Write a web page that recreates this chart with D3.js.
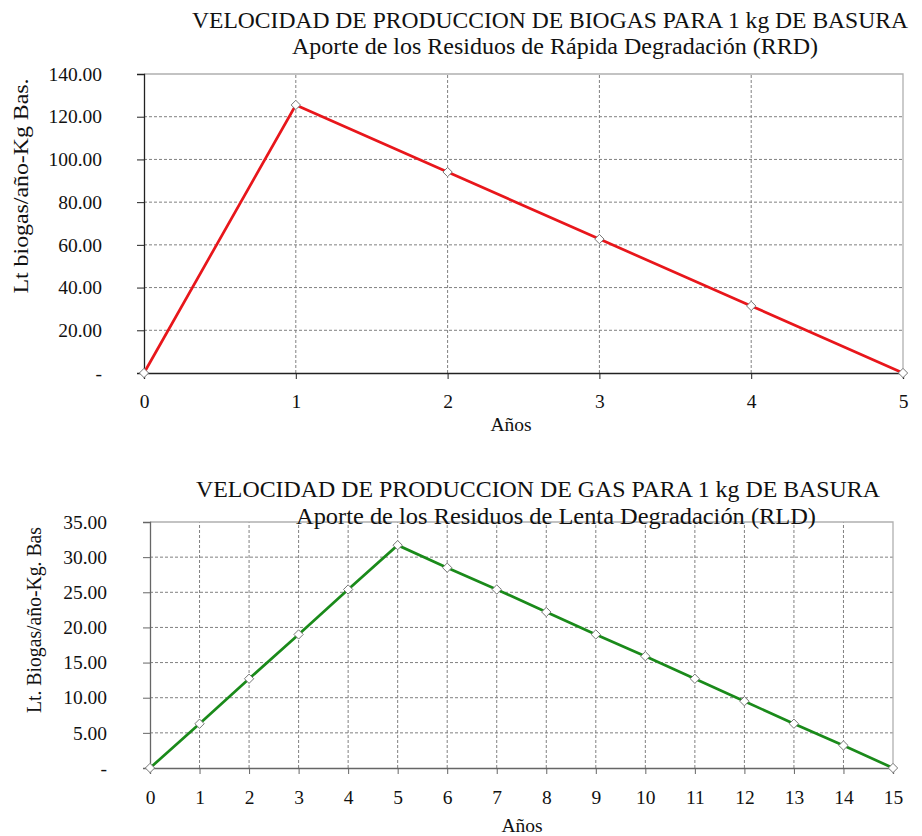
<!DOCTYPE html>
<html><head><meta charset="utf-8">
<script src="https://cdn.jsdelivr.net/npm/d3@7"></script>
<style>body{margin:0;background:#fff}svg{display:block}svg text{font-family:"Liberation Serif",serif;fill:#111}</style>
</head><body><svg id="c" width="922" height="836"></svg>
<script>
// Data
const rrdYears = [0,1,2,3,4,5];
const rrdValues = [0,125.5,94.1,62.7,31.4,0];
const rrdYTicks = [0,20,40,60,80,100,120,140];
const rlYears = [0,1,2,3,4,5,6,7,8,9,10,11,12,13,14,15];
const rlValues = [0,6.3,12.7,19.0,25.4,31.7,28.5,25.4,22.2,19.0,15.9,12.7,9.5,6.3,3.2,0];
const rlYTicks = [0,5,10,15,20,25,30,35];
const titles1 = ["VELOCIDAD DE PRODUCCION DE BIOGAS PARA 1 kg DE BASURA","Aporte de los Residuos de Rápida Degradación (RRD)"];
const titles2 = ["VELOCIDAD DE PRODUCCION DE GAS PARA 1 kg DE BASURA","Aporte de los Residuos de Lenta Degradación (RLD)"];
const xLabel = "Años";
const yLabel1 = "Lt biogas/año-Kg Bas.";
const yLabel2 = "Lt. Biogas/año-Kg. Bas";

const svg = d3.select("#c");
const fmt = v => v === 0 ? "-" : d3.format(".2f")(v);
const FF = "'Liberation Serif', serif";

function chart(o){
  const g = svg.append("g");
  const x = d3.scaleLinear().domain([0, o.years[o.years.length-1]]).range([o.x0, o.x1]);
  const y = d3.scaleLinear().domain([0, o.yTicks[o.yTicks.length-1]]).range([o.y0, o.y1]);
  g.append("g").selectAll("line").data(o.yTicks.slice(1,-1)).join("line")
    .attr("x1",o.x0).attr("x2",o.x1).attr("y1",d=>y(d)).attr("y2",d=>y(d))
    .attr("stroke","#808080").attr("stroke-width",1).attr("stroke-dasharray","3,2");
  g.append("g").selectAll("line").data(o.years.slice(1,-1)).join("line")
    .attr("x1",d=>x(d)).attr("x2",d=>x(d)).attr("y1",o.y0).attr("y2",o.y1)
    .attr("stroke","#808080").attr("stroke-width",1).attr("stroke-dasharray","3,2");
  g.append("path").attr("d",`M${o.x0},${o.y1}H${o.x1}V${o.y0}`).attr("fill","none").attr("stroke","#b0b0b0").attr("stroke-width",1.3);
  const ya = d3.axisLeft(y).tickValues(o.yTicks).tickFormat(fmt).tickSize(7).tickPadding(o.yPad);
  const ga = g.append("g").attr("transform",`translate(${o.x0},0)`).call(ya).attr("font-family",null);
  ga.select(".domain").attr("stroke",o.axisColor).attr("stroke-width",1.3);
  ga.selectAll(".tick line").attr("stroke",o.axisColor);
  ga.selectAll(".tick text").style("font-size","19.5px").style("font-family",FF).attr("fill","#111");
  const xa = d3.axisBottom(x).tickValues(o.years).tickFormat(d3.format("d")).tickSize(6).tickPadding(o.xPad);
  const gx = g.append("g").attr("transform",`translate(0,${o.y0})`).call(xa).attr("font-family",null);
  gx.select(".domain").attr("stroke",o.axisColor).attr("stroke-width",1.3);
  gx.selectAll(".tick line").attr("stroke",o.axisColor);
  gx.selectAll(".tick text").style("font-size","19.5px").style("font-family",FF).attr("fill","#111");
  const line = d3.line().x((d,i)=>x(o.years[i])).y(d=>y(d));
  g.append("path").datum(o.values).attr("d",line).attr("fill","none").attr("stroke",o.color).attr("stroke-width",2.7);
  const sym = d3.symbol().type(d3.symbolDiamond2).size(55);
  g.append("g").selectAll("path").data(o.values).join("path")
    .attr("d",sym).attr("transform",(d,i)=>`translate(${x(o.years[i])},${y(d)})`)
    .attr("fill","#fff").attr("stroke","#777").attr("stroke-width",1);
  o.titles.forEach((t,i)=>{
    g.append("text").attr("x",o.tx[i]).attr("y",o.ty[i]).attr("text-anchor","middle")
      .attr("textLength",o.tw[i]).attr("lengthAdjust","spacingAndGlyphs")
      .style("font-family",FF).style("font-size",o.tfs[i]+"px").text(t);
  });
  g.append("text").attr("x",o.xlx).attr("y",o.xly).attr("text-anchor","middle").style("font-family",FF).style("font-size","19.5px").text(xLabel);
  g.append("text").attr("transform",`translate(${o.ylx},${o.yly}) rotate(-90)`).attr("text-anchor","middle")
    .attr("textLength",o.ylw).attr("lengthAdjust","spacingAndGlyphs")
    .style("font-family",FF).style("font-size",o.ylfs+"px").text(o.ylabel);
}

chart({years:rrdYears, values:rrdValues, yTicks:rrdYTicks, x0:144, x1:903, y0:373, y1:74,
  color:"#e8161b", axisColor:"#222", yPad:35, xPad:15,
  titles:titles1, tx:[550,555], ty:[28,54], tw:[716,526], tfs:[23.5,23],
  xlx:511, xly:431, ylx:28, yly:186, ylw:215, ylfs:20.5, ylabel:yLabel1});
chart({years:rlYears, values:rlValues, yTicks:rlYTicks, x0:150, x1:893, y0:768, y1:522,
  color:"#1a8a1a", axisColor:"#666", yPad:36, xPad:16,
  titles:titles2, tx:[538,556], ty:[497,524], tw:[684,520], tfs:[23.5,23],
  xlx:522, xly:832, ylx:41, yly:620, ylw:186, ylfs:20.5, ylabel:yLabel2});
</script></body></html>
